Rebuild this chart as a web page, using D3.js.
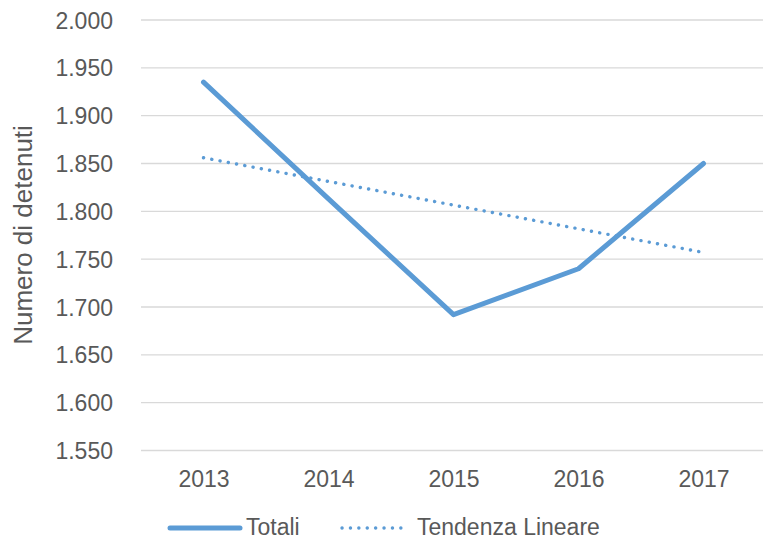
<!DOCTYPE html>
<html>
<head>
<meta charset="utf-8">
<script src="https://cdn.jsdelivr.net/npm/d3@7"></script>
<style>
  body { margin: 0; background: #fff; }
  svg { display: block; font-family: "Liberation Sans", Arial, sans-serif; }
</style>
</head>
<body>
<div id="chart"></div>
<script>
var years = ["2013", "2014", "2015", "2016", "2017"];
var totali = [1935, 1813, 1692, 1740, 1850];
// linear trend line as it appears in the picture (end points)
var trendYears = ["2013", "2017"];
var trendValues = [1856, 1757];
var yTicks = [1550, 1600, 1650, 1700, 1750, 1800, 1850, 1900, 1950, 2000];

var width = 763, height = 540;
var blue = "#5B9BD5", grey = "#595959";

var svg = d3.select("#chart").append("svg")
    .attr("width", width)
    .attr("height", height);

var x = d3.scalePoint()
    .domain(years)
    .range([141, 766])
    .padding(0.5);

var y = d3.scaleLinear()
    .domain([1550, 2000])
    .range([450.5, 20]);

// gridlines
svg.append("g").selectAll("line")
    .data(yTicks)
    .enter()
    .append("line")
      .attr("x1", 141)
      .attr("x2", 766)
      .attr("y1", function(d){ return y(d); })
      .attr("y2", function(d){ return y(d); })
      .attr("stroke", "#d9d9d9")
      .attr("stroke-width", 1.3);

// y axis labels (Italian thousands separator)
var yAxis = d3.axisLeft(y).tickValues(yTicks).tickSize(0).tickPadding(0)
    .tickFormat(function(d){ return (d / 1000).toFixed(3); });
var gy = svg.append("g").attr("transform", "translate(113,0)").call(yAxis);
gy.select(".domain").remove();
gy.selectAll("text")
    .attr("fill", grey)
    .attr("font-size", "23px")
    .attr("font-family", "Liberation Sans, Arial, sans-serif")
    .attr("dy", "0.35em");

// x axis labels
var xAxis = d3.axisBottom(x).tickSize(0).tickPadding(0);
var gx = svg.append("g").attr("transform", "translate(0,470)").call(xAxis);
gx.select(".domain").remove();
gx.selectAll("text")
    .attr("fill", grey)
    .attr("font-size", "23px")
    .attr("font-family", "Liberation Sans, Arial, sans-serif")
    .attr("dy", "0.72em");

// y axis title
svg.append("text")
    .attr("transform", "translate(32,235) rotate(-90)")
    .attr("text-anchor", "middle")
    .attr("fill", grey)
    .attr("font-size", "26px")
    .text("Numero di detenuti");

// trend line
var trendData = trendYears.map(function(d, i){ return [d, trendValues[i]]; });
svg.append("path")
    .datum(trendData)
    .attr("fill", "none")
    .attr("stroke", blue)
    .attr("stroke-width", 3.4)
    .attr("stroke-linecap", "round")
    .attr("stroke-dasharray", "0.1 8.3")
    .attr("d", d3.line()
      .x(function(d){ return x(d[0]); })
      .y(function(d){ return y(d[1]); }));

// main series
var mainData = years.map(function(d, i){ return [d, totali[i]]; });
svg.append("path")
    .datum(mainData)
    .attr("fill", "none")
    .attr("stroke", blue)
    .attr("stroke-width", 5)
    .attr("stroke-linejoin", "round")
    .attr("stroke-linecap", "round")
    .attr("d", d3.line()
      .x(function(d){ return x(d[0]); })
      .y(function(d){ return y(d[1]); }));

// legend
var legend = svg.append("g");
legend.append("line")
    .attr("x1", 170).attr("x2", 240)
    .attr("y1", 528).attr("y2", 528)
    .attr("stroke", blue)
    .attr("stroke-width", 5)
    .attr("stroke-linecap", "round");
legend.append("text")
    .attr("x", 246).attr("y", 527)
    .attr("dy", "0.35em")
    .attr("fill", grey)
    .attr("font-size", "23px")
    .text("Totali");
legend.append("line")
    .attr("x1", 342).attr("x2", 405)
    .attr("y1", 528).attr("y2", 528)
    .attr("stroke", blue)
    .attr("stroke-width", 3.4)
    .attr("stroke-linecap", "round")
    .attr("stroke-dasharray", "0.1 8.3");
legend.append("text")
    .attr("x", 417).attr("y", 527)
    .attr("dy", "0.35em")
    .attr("fill", grey)
    .attr("font-size", "23px")
    .text("Tendenza Lineare");
</script>
</body>
</html>
